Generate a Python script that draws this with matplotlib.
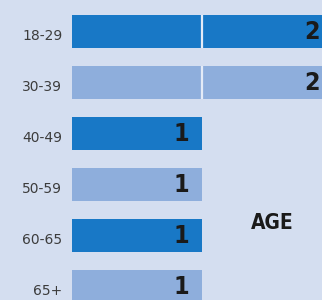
import matplotlib
matplotlib.use("Agg")
import matplotlib.pyplot as plt
from matplotlib.transforms import ScaledTranslation

categories = ["18-29", "30-39", "40-49", "50-59", "60-65", "65+"]
values = [2, 2, 1, 1, 1, 1]
bar_colors = ["#1878c6", "#8eaedc", "#1878c6", "#8eaedc", "#1878c6", "#8eaedc"]
title_text = "AGE"

bg = "#d4def0"
fig = plt.figure(figsize=(3.22, 3.0), dpi=100, facecolor=bg)
ax = fig.add_axes([72/322, 1 - 312.5/300, 260/322, 306.5/300])
ax.set_facecolor(bg)

ypos = list(range(len(categories)))
bh = 0.65
ax.barh(ypos, values, height=bh, color=bar_colors, zorder=2)
for y, v in zip(ypos, values):
    for k in range(1, int(v)):
        ax.vlines(k, y - bh/2, y + bh/2, color="#e4ebf7", lw=1.6, zorder=3)
    ax.annotate(str(v), xy=(v, y), xytext=(-9, 0), textcoords="offset points",
                ha="right", va="center", fontsize=18, fontweight="bold",
                fontstretch="condensed", family="DejaVu Sans", color="#1a1a1a", zorder=4)

ax.set_xlim(0, 2)
ax.set_ylim(len(categories) - 0.5, -0.5)
ax.set_yticks(ypos)
ax.set_yticklabels(categories, fontsize=10, color="#3c3c3c")
ax.tick_params(axis="y", length=0, pad=7)
shift = ScaledTranslation(0, -3/100, fig.dpi_scale_trans)
for lab in ax.get_yticklabels():
    lab.set_transform(lab.get_transform() + shift)
ax.set_xticks([])
for s in ax.spines.values():
    s.set_visible(False)

fig.text(272/322, 1 - 223/300, title_text, ha="center", va="center",
         fontsize=15, fontweight="bold", fontstretch="condensed",
         family="DejaVu Sans", color="#1a1a1a")

fig.savefig("out.png", dpi=100, facecolor=bg)
